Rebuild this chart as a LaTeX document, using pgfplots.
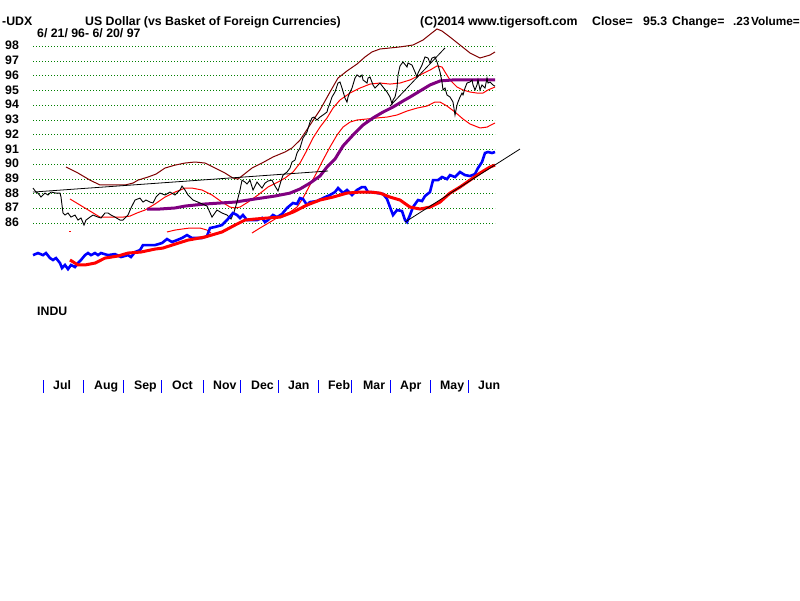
\documentclass[border=0pt]{standalone}
\usepackage{fontspec}
\setmainfont{Liberation Sans}
\usepackage{pgfplots}
\pgfplotsset{compat=1.18}
\definecolor{gridgreen}{RGB}{0,128,0}
\definecolor{maroonband}{RGB}{128,0,0}
\definecolor{purpleline}{RGB}{128,0,128}
\newcommand\tf{\fontsize{12.3}{14}\selectfont\bfseries}
\newcommand\tfs{\fontsize{11.8}{14}\selectfont\bfseries}
\begin{document}
\begin{tikzpicture}[x=1pt,y=1pt]
\fill[white] (0,0) rectangle (800,600);
\begin{axis}[at={(33pt,376.7pt)}, anchor=south west, scale only axis,
  width=462pt, height=176.8pt, xmin=33, xmax=495, ymin=86, ymax=98,
  clip=false, axis line style={draw=none}, tick style={draw=none},
  xtick=\empty, ytick={86,87,...,98}, ymajorgrids,
  grid style={draw=gridgreen, line width=1pt, dash pattern=on 1pt off 2pt},
  yticklabel style={font=\tf, anchor=west, xshift=-28pt, yshift=0.8pt, inner sep=0pt},
  /pgf/number format/assume math mode=true]
% upper band (maroon)
\addplot[maroonband, line width=1pt] coordinates {
(66,89.82)(78,89.41)(90,88.93)(100,88.60)(111,88.60)(125,88.60)(133,88.73)(138,88.93)
(148,89.14)(156,89.34)(165,89.75)(175,89.95)(185,90.09)(195,90.16)(205,90.09)(215,89.75)
(225,89.41)(233,89.07)(238,89.00)(243,89.27)(252,89.75)(262,90.09)(273,90.50)(285,90.84)
(292,91.11)(300,91.65)(310,92.67)(320,93.69)(330,94.91)(338,95.86)(347,96.34)(357,96.81)
(365,97.29)(372,97.63)(380,97.83)(390,97.90)(400,97.97)(413,98.10)(423,98.44)(433,98.98)
(437,99.19)(442,99.05)(450,98.64)(460,98.10)(470,97.56)(480,97.22)(490,97.42)(495,97.63)};
% red thin band A
\addplot[red, line width=1pt] coordinates {
(70,87.65)(80,87.24)(90,86.83)(100,86.42)(110,86.42)(123,86.42)(130,86.49)(137,86.70)
(145,86.90)(155,87.31)(165,87.78)(175,88.12)(185,88.39)(192,88.39)(202,88.26)(212,87.92)
(222,87.44)(230,87.10)(235,87.04)(240,87.10)(248,87.44)(258,87.92)(268,88.46)(278,88.80)
(285,89.07)(293,89.48)(300,90.09)(307,90.97)(313,91.79)(320,92.53)(327,93.15)(333,93.82)
(340,94.37)(350,94.84)(360,95.18)(370,95.45)(380,95.52)(390,95.45)(400,95.52)(410,95.73)
(420,96.07)(430,96.40)(437,96.68)(442,96.61)(445,96.27)(450,95.73)(457,95.25)(463,95.05)
(470,94.91)(477,94.84)(483,94.84)(488,95.05)(495,95.25)};
% red thin band B (lower)
\addplot[red, line width=1pt] coordinates {(69,85.41)(71,85.41)};
\addplot[red, line width=1pt] coordinates {
(167,85.41)(175,85.54)(182,85.61)(190,85.68)(200,85.68)(207,85.54)(211,85.34)};
\addplot[red, line width=1pt] coordinates {
(252,85.34)(260,85.68)(270,86.08)(280,86.49)(290,86.76)(297,87.10)(303,87.71)(310,88.60)
(317,89.48)(323,90.29)(330,91.18)(337,91.99)(343,92.53)(350,92.87)(357,93.01)(367,93.08)
(377,93.15)(387,93.21)(397,93.35)(407,93.62)(417,93.82)(427,93.96)(435,94.23)(440,94.23)
(447,93.96)(455,93.55)(463,93.08)(470,92.74)(480,92.47)(487,92.53)(495,92.81)};
% purple moving average
\addplot[purpleline, line width=3pt] coordinates {
(147,86.97)(160,86.97)(175,87.04)(185,87.17)(205,87.31)(235,87.44)(255,87.65)(275,87.85)
(290,88.05)(300,88.33)(310,88.73)(320,89.21)(327,89.82)(335,90.36)(343,91.25)(353,91.99)
(363,92.67)(373,93.15)(383,93.55)(393,93.89)(403,94.30)(410,94.57)(420,94.98)(430,95.39)
(440,95.66)(453,95.73)(467,95.73)(480,95.73)(495,95.73)};
% UDX price
\addplot[black, line width=0.9pt] coordinates {
(33,88.39)(36,88.12)(38,88.05)(41,87.78)(45,88.05)(48,87.92)(51,88.12)(56,88.05)(60,88.05)
(61,87.78)(63,86.70)(65,86.56)(68,86.70)(71,86.42)(75,86.56)(78,86.22)(81,86.36)(84,85.88)
(86,86.22)(90,86.42)(93,86.56)(98,86.42)(101,86.36)(105,86.70)(108,86.70)(111,86.56)
(115,86.42)(120,86.22)(123,86.22)(128,86.56)(131,87.04)(135,87.58)(140,87.71)(143,87.44)
(146,87.58)(150,87.44)(153,87.38)(156,87.78)(160,88.05)(165,87.92)(170,88.12)(175,87.92)
(180,88.26)(182,88.53)(185,88.26)(188,87.92)(193,87.58)(200,87.38)(207,87.17)(212,86.42)
(217,86.90)(222,86.70)(227,86.56)(231,86.29)(234,86.76)(237,87.44)(240,88.26)(242,88.93)
(245,88.80)(247,88.67)(250,88.93)(253,88.26)(257,88.80)(262,88.39)(265,88.73)(268,88.87)
(272,88.93)(275,88.53)(278,88.19)(281,88.87)(283,89.27)(287,89.48)(290,89.75)(292,90.16)
(295,90.29)(297,90.77)(300,91.11)(303,91.79)(307,92.20)(310,92.87)(312,93.15)(314,93.21)
(317,93.01)(320,93.21)(323,93.35)(327,93.55)(328,93.82)(330,94.16)(332,94.57)(335,94.91)
(338,95.52)(340,95.59)(342,95.18)(345,94.50)(347,94.23)(348,94.57)(350,94.91)(352,95.18)
(355,95.86)(357,96.07)(360,95.93)(362,96.07)(363,95.73)(367,95.52)(368,95.86)(370,95.93)
(373,95.39)(375,95.18)(378,95.39)(380,95.52)(383,95.25)(387,94.91)(390,94.57)(392,94.10)
(393,94.37)(395,94.57)(397,95.18)(398,96.07)(400,96.68)(403,96.95)(407,96.61)(408,96.88)
(412,96.74)(415,96.27)(417,95.93)(418,96.20)(422,96.74)(425,97.29)(428,97.22)(430,96.88)
(432,97.22)(435,97.29)(437,96.95)(438,96.74)(440,96.27)(442,95.59)(443,95.05)(445,95.18)
(447,94.71)(450,94.57)(453,94.23)(455,93.35)(457,94.03)(458,94.23)(460,94.57)(462,94.84)
(463,94.71)(465,95.18)(467,95.52)(470,95.59)(472,95.73)(473,95.39)(475,95.05)(477,95.39)
(478,95.73)(480,95.05)(482,95.39)(485,95.18)(487,95.86)(488,95.52)(490,95.59)(493,95.39)
(495,95.30)};
% trendlines
\addplot[black, line width=0.8pt] coordinates {(33,88.12)(328,89.55)};
\addplot[black, line width=0.8pt] coordinates {(390,93.96)(445,97.90)};
% INDU (blue)
\addplot[blue, line width=2.6pt] coordinates {
(33,83.84)(38,83.98)(43,83.84)(46,83.98)(50,83.64)(53,83.51)(56,83.64)(60,83.30)(62,82.96)
(65,83.17)(68,82.89)(71,83.17)(75,83.03)(78,83.30)(81,83.51)(85,83.84)(88,83.98)(91,83.84)
(95,83.98)(98,83.84)(101,83.98)(108,83.84)(115,83.91)(121,83.71)(128,83.84)(131,83.71)
(135,84.05)(140,84.18)(143,84.52)(148,84.52)(155,84.52)(162,84.66)(167,84.93)(172,84.73)
(177,84.86)(182,85.00)(187,85.20)(192,85.00)(197,85.00)(202,85.00)(207,85.13)(210,85.68)
(215,85.75)(222,85.88)(227,86.22)(233,86.70)(237,86.56)(240,86.36)(243,86.56)(247,86.22)
(252,86.22)(257,86.22)(262,86.36)(265,86.08)(268,86.22)(273,86.56)(277,86.42)(282,86.63)
(287,87.04)(293,87.38)(297,87.31)(300,87.71)(303,87.65)(307,87.24)(310,87.44)(317,87.51)
(323,87.71)(330,87.92)(335,88.12)(338,88.39)(343,88.05)(347,88.26)(352,87.92)(357,88.26)
(362,88.46)(365,88.46)(368,88.12)(373,88.12)(378,88.05)(383,87.99)(387,87.65)(390,87.10)
(393,86.56)(397,86.90)(402,86.83)(405,86.22)(407,86.08)(410,86.56)(413,87.10)(418,87.58)
(422,87.51)(425,87.85)(430,88.12)(433,88.93)(438,88.93)(442,89.14)(447,89.00)(450,89.27)
(455,89.14)(460,89.48)(465,89.27)(470,89.21)(475,89.34)(478,89.75)(482,90.16)(485,90.77)
(488,90.84)(492,90.77)(495,90.84)};
% INDU moving average (red thick)
\addplot[red, line width=3pt] coordinates {
(70,83.51)(78,83.17)(85,83.17)(95,83.30)(105,83.64)(118,83.78)(128,83.98)(141,84.05)
(155,84.25)(163,84.32)(172,84.52)(188,84.86)(205,85.07)(222,85.41)(235,85.88)(245,86.22)
(255,86.29)(268,86.36)(280,86.42)(293,86.76)(307,87.24)(320,87.58)(333,87.78)(347,88.05)
(360,88.12)(370,88.12)(380,88.05)(390,87.78)(400,87.58)(410,87.10)(420,86.97)(430,87.10)
(440,87.44)(450,88.05)(460,88.46)(470,88.93)(480,89.41)(490,89.82)(495,89.95)};
\addplot[black, line width=0.8pt] coordinates {(405,86.08)(520,91.04)};
\end{axis}
% texts
\begin{scope}[every node/.style={anchor=base west, inner sep=0pt, font=\tf}]
\node at (2,574.5) {-UDX};
\node at (85,574.5) {US Dollar (vs Basket of Foreign Currencies)};
\node at (37,562) {6/ 21/ 96- 6/ 20/ 97};
\node at (420,574.5) {(C)2014 www.tigersoft.com};
\node at (592,574.5) {Close=};
\node at (643,574.5) {95.3};
\node at (672,574.5) {Change=};
\node[font=\tfs] at (733,574.5) {.23};
\node[font=\tfs, anchor=base east] at (800,574.5) {Volume=};
\node at (37,284) {INDU};
\node at (53,210) {Jul};
\node at (94,210) {Aug};
\node at (134,210) {Sep};
\node at (172,210) {Oct};
\node at (213,210) {Nov};
\node at (251,210) {Dec};
\node at (288,210) {Jan};
\node at (328,210) {Feb};
\node at (363,210) {Mar};
\node at (400,210) {Apr};
\node at (440,210) {May};
\node at (478,210) {Jun};
\end{scope}
\foreach \bx in {43,83,123,161,203,240,278,318,351,390,430,468}
  \draw[blue, line width=1pt] (\bx,207) -- (\bx,220);
\end{tikzpicture}
\end{document}
